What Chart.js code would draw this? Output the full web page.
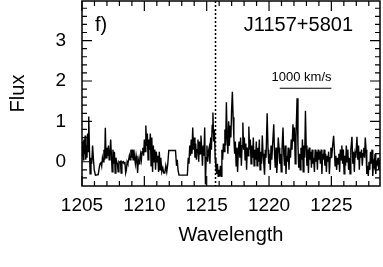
<!DOCTYPE html>
<html>
<head>
<meta charset="utf-8">
<script src="https://cdn.jsdelivr.net/npm/chart.js@4/dist/chart.umd.min.js"></script>
<style>
html,body{margin:0;padding:0;background:#fff;}
canvas{display:block;}
</style>
</head>
<body>
<canvas id="c" width="383" height="267"></canvas>
<script>
const wavelength = [
1205.00,1205.05,1205.10,1205.15,1205.20,1205.25,1205.30,1205.35,1205.40,1205.45,1205.50,1205.54,1205.60,1205.65,1205.72,1205.78,1205.85,1205.92,1205.98,
1206.08,1206.30,1206.38,1206.45,1206.52,1206.58,1206.64,1206.70,1206.76,1206.82,1206.87,1206.93,1207.00,
1207.06,1207.12,1207.18,1207.24,1207.30,1207.36,1207.42,1207.48,1207.54,1207.60,1207.66,1207.72,1207.78,1207.84,1207.90,1207.96,
1208.02,1208.08,1208.14,1208.20,1208.26,1208.32,1208.38,1208.44,1208.50,1208.56,1208.62,1208.68,1208.74,1208.80,1208.86,1208.92,1208.98,
1209.04,1209.10,1209.16,1209.22,1209.28,1209.34,1209.40,1209.46,1209.52,1209.58,1209.64,1209.70,1209.76,1209.82,1209.88,1209.94,
1210.00,1210.06,1210.12,1210.18,1210.24,1210.30,1210.36,1210.42,1210.48,1210.54,1210.60,1210.66,1210.72,1210.78,1210.84,1210.90,1210.96,
1211.02,1211.08,1211.14,1211.20,1211.26,1211.32,1211.40,1211.48,1211.56,1211.64,1211.72,1211.80,1211.88,1211.96,
1212.50,1212.58,1212.64,1212.70,1212.78,1213.45,1213.52,1213.58,1213.64,1213.70,1213.76,1213.82,1213.88,1213.94,
1214.00,1214.06,1214.12,1214.18,1214.24,1214.30,1214.36,1214.42,1214.48,1214.54,1214.60,1214.66,1214.72,1214.78,1214.84,1214.90,1214.96,
1215.02,1215.08,1215.14,1215.20,1215.26,1215.32,1215.38,1215.44,1215.50,1215.56,1215.62,1215.68,1215.74,1215.80,1215.86,1215.92,1215.98,
1216.04,1216.10,1216.16,1216.22,1216.28,1216.34,1216.40,1216.46,1216.52,1216.58,1216.64,1216.70,1216.76,1216.82,1216.88,1216.94,
1217.00,1217.06,1217.12,1217.18,1217.24,1217.30,1217.36,1217.42,1217.48,1217.54,1217.60,1217.66,1217.72,1217.78,1217.84,1217.90,1217.96,
1218.02,1218.08,1218.14,1218.20,1218.26,1218.32,1218.38,1218.44,1218.50,1218.56,1218.62,1218.68,1218.74,1218.80,1218.86,1218.92,1218.98,
1219.04,1219.10,1219.16,1219.22,1219.28,1219.34,1219.40,1219.46,1219.52,1219.58,1219.64,1219.70,1219.76,1219.85,1219.92,1219.98,
1220.04,1220.10,1220.16,1220.22,1220.30,1220.38,1220.44,1220.50,1220.56,1220.62,1220.68,1220.74,1220.80,1220.86,1220.92,1220.98,
1221.04,1221.12,1221.18,1221.24,1221.30,1221.36,1221.42,1221.48,1221.54,1221.60,1221.66,1221.72,1221.78,1221.84,1221.92,1221.98,
1222.04,1222.10,1222.16,1222.25,1222.32,1222.38,1222.44,1222.50,1222.56,1222.62,1222.68,1222.74,1222.80,1222.86,1222.92,1222.98,
1223.04,1223.10,1223.16,1223.22,1223.28,1223.34,1223.40,1223.46,1223.52,1223.58,1223.64,1223.70,1223.76,1223.82,1223.88,1223.94,
1224.00,1224.06,1224.12,1224.18,1224.24,1224.30,1224.36,1224.42,1224.48,1224.54,1224.60,1224.66,1224.72,1224.78,1224.84,1224.90,1224.96,
1225.02,1225.10,1225.18,1225.24,1225.30,1225.36,1225.42,1225.48,1225.54,1225.60,1225.66,1225.72,1225.78,1225.84,1225.90,1225.96,
1226.02,1226.08,1226.14,1226.20,1226.26,1226.32,1226.38,1226.44,1226.50,1226.56,1226.65,1226.72,1226.78,1226.84,1226.90,1226.96,
1227.05,1227.12,1227.18,1227.24,1227.30,1227.36,1227.42,1227.48,1227.54,1227.60,1227.66,1227.72,1227.78,1227.84,1227.90,1227.96,
1228.02,1228.08,1228.14,1228.20,1228.26,1228.32,1228.38,1228.44,1228.50,1228.56,1228.62,1228.68,1228.74,1228.80,1228.86,1228.92
];
const flux = [
0.15,0.50,0.05,0.55,0.20,0.65,0.05,0.40,0.10,0.70,0.25,1.12,0.30,-0.30,0.10,-0.05,0.40,0.05,-0.20,
-0.33,-0.32,-0.15,-0.05,0.00,-0.10,0.10,0.00,0.30,0.05,0.84,0.10,0.35,
0.15,0.40,0.05,0.20,0.55,0.15,-0.25,0.30,-0.05,0.25,-0.28,0.10,0.00,-0.05,-0.25,0.00,
-0.02,0.00,-0.28,0.00,-0.02,0.00,-0.05,0.00,-0.28,-0.20,0.00,-0.05,0.05,0.15,0.05,0.30,0.10,
0.30,0.05,0.30,0.10,-0.05,0.15,0.00,-0.28,0.05,-0.05,0.10,0.20,0.05,0.25,0.35,0.15,
0.55,0.25,0.90,0.40,0.70,0.05,0.55,0.30,0.70,-0.10,0.60,-0.25,0.40,0.00,0.30,-0.20,0.25,
0.00,0.15,-0.25,0.25,-0.20,0.10,-0.25,-0.15,-0.28,-0.28,-0.10,-0.25,-0.05,0.28,
0.28,-0.10,0.05,-0.20,-0.33,-0.33,0.10,-0.05,0.40,0.15,0.55,0.20,0.85,0.30,
0.60,0.10,0.45,0.05,0.30,0.55,0.00,0.50,0.20,0.65,0.35,-0.10,0.40,0.15,0.85,-0.56,0.10,
0.40,0.00,0.25,0.35,-0.05,0.60,0.30,0.90,1.22,0.50,0.80,0.10,-0.15,-0.30,-0.05,-0.36,-0.20,
-0.36,-0.10,-0.36,0.30,0.05,0.45,0.25,0.80,0.40,1.47,0.60,0.20,1.00,0.40,0.90,0.60,
1.30,1.73,1.10,0.60,0.20,0.50,-0.10,0.35,-0.25,0.30,0.50,0.10,0.60,-0.10,0.40,0.97,0.30,
0.60,0.05,0.45,-0.20,0.35,0.15,0.87,0.30,0.55,-0.05,0.40,0.10,0.60,-0.10,0.30,0.05,0.50,
-0.10,0.35,0.00,0.55,-0.20,0.25,-0.05,0.65,0.20,-0.05,-0.32,0.30,0.10,1.20,0.30,-0.05,
0.20,-0.20,0.40,0.05,0.50,0.93,0.20,-0.15,0.35,-0.28,0.05,0.60,0.35,-0.05,0.20,-0.25,
0.30,0.85,0.20,-0.10,0.40,-0.30,0.15,0.00,0.35,-0.20,0.30,0.10,0.55,0.30,0.93,0.50,
0.85,-0.05,0.60,1.57,0.40,-0.15,0.20,-0.20,0.35,0.05,0.55,-0.25,0.40,0.10,1.26,0.40,
-0.10,0.30,-0.28,0.35,0.05,0.25,-0.15,0.30,-0.05,0.10,-0.25,0.30,0.00,0.25,-0.20,0.30,
0.05,0.25,-0.05,0.30,-0.30,0.20,0.05,0.30,-0.10,0.20,-0.25,0.15,0.00,0.25,-0.30,0.10,0.35,
0.10,0.40,0.64,0.30,-0.10,0.15,-0.20,0.10,-0.05,0.20,-0.25,0.30,0.05,0.40,-0.05,0.30,
-0.30,0.15,-0.10,0.40,0.00,0.30,-0.20,0.10,-0.30,0.30,0.62,-0.05,0.25,-0.25,0.20,0.10,
0.62,0.05,0.40,-0.20,0.25,0.10,0.30,-0.10,0.20,0.35,0.10,0.60,0.30,-0.30,-0.10,-0.35,
0.00,-0.20,0.25,-0.05,0.30,-0.35,0.00,-0.10,0.20,-0.30,0.00,-0.05,0.10,-0.20,0.00,-0.05
];
const xTickLabels = [1205, 1210, 1215, 1220, 1225];
const yTickLabels = [0, 1, 2, 3];
const xRange = [1205, 1228.9];
const yRange = [-0.6, 3.98];
const lyaWavelength = 1215.67;
const scaleBarWavelengths = [1220.86, 1225.0];
const scaleBarFlux = 1.82;
const scaleBarText = "1000 km/s";
const panelLabel = "f)";
const objectName = "J1157+5801";

const FONT = "'Liberation Sans', Arial, Helvetica, sans-serif";
Chart.defaults.font.family = FONT;
Chart.defaults.color = '#000';

const decor = {
  id: 'decor',
  afterDatasetsDraw(chart) {
    const ctx = chart.ctx, a = chart.chartArea;
    const xs = chart.scales.x, ys = chart.scales.y;
    ctx.save();
    ctx.strokeStyle = '#000';
    ctx.lineWidth = 1.5;
    ctx.setLineDash([2, 2]);
    const lx = Math.round(xs.getPixelForValue(lyaWavelength)) + 0.5;
    ctx.beginPath(); ctx.moveTo(lx, a.top); ctx.lineTo(lx, a.bottom); ctx.stroke();
    ctx.setLineDash([]);
    ctx.lineWidth = 1.5;
    ctx.strokeRect(a.left, a.top, a.right - a.left, a.bottom - a.top);
    ctx.lineWidth = 1.2;
    ctx.beginPath();
    for (let w = Math.ceil(xRange[0]); w <= xRange[1]; w += 1) {
      const p = xs.getPixelForValue(w);
      const len = (w % 5 === 0) ? 10 : 5;
      ctx.moveTo(p, a.bottom); ctx.lineTo(p, a.bottom - len);
      ctx.moveTo(p, a.top); ctx.lineTo(p, a.top + len);
    }
    for (let k = -2; k <= 19; k++) {
      const v = k / 5;
      if (v < yRange[0] || v > yRange[1]) continue;
      const p = ys.getPixelForValue(v);
      const len = (k % 5 === 0) ? 10 : 5;
      ctx.moveTo(a.left, p); ctx.lineTo(a.left + len, p);
      ctx.moveTo(a.right, p); ctx.lineTo(a.right - len, p);
    }
    ctx.stroke();
    ctx.lineWidth = 1.2;
    const sy = ys.getPixelForValue(scaleBarFlux);
    const sx0 = xs.getPixelForValue(scaleBarWavelengths[0]);
    const sx1 = xs.getPixelForValue(scaleBarWavelengths[1]);
    ctx.beginPath(); ctx.moveTo(sx0, sy); ctx.lineTo(sx1, sy); ctx.stroke();
    ctx.fillStyle = '#000';
    ctx.font = "13px " + FONT;
    ctx.textAlign = 'center'; ctx.textBaseline = 'middle';
    ctx.fillText(scaleBarText, (sx0 + sx1) / 2 - 4, sy - 11);
    ctx.font = "20px " + FONT;
    ctx.textAlign = 'left';
    ctx.fillText(panelLabel, a.left + 13, a.top + 24);
    ctx.textAlign = 'right';
    ctx.fillText(objectName, a.right - 27, a.top + 24);
    ctx.restore();
  }
};

function zeroPad(s) { s.paddingTop = 0; s.paddingBottom = 0; s.paddingLeft = 0; s.paddingRight = 0; }

new Chart(document.getElementById('c'), {
  type: 'line',
  data: {
    datasets: [{
      data: wavelength.map((w, i) => ({ x: w, y: flux[i] })),
      borderColor: '#000',
      borderWidth: 1.4,
      pointRadius: 0,
      tension: 0,
      fill: false
    }]
  },
  options: {
    responsive: false,
    animation: false,
    devicePixelRatio: 1,
    layout: { padding: { top: 1, right: 3, left: 0, bottom: 0 } },
    plugins: { legend: { display: false }, tooltip: { enabled: false } },
    scales: {
      x: {
        type: 'linear',
        min: xRange[0], max: xRange[1],
        grid: { display: false, drawTicks: false },
        border: { display: false },
        afterBuildTicks: s => { s.ticks = xTickLabels.map(v => ({ value: v })); },
        ticks: { padding: 8, font: { size: 19 }, color: '#000', maxRotation: 0, autoSkip: false, callback: v => String(v) },
        title: { display: true, text: 'Wavelength', font: { size: 20 }, color: '#000', padding: { top: 0, bottom: 20 } },
        afterFit: s => { s.height = 81; zeroPad(s); }
      },
      y: {
        type: 'linear',
        min: yRange[0], max: yRange[1],
        grid: { display: false, drawTicks: false },
        border: { display: false },
        afterBuildTicks: s => { s.ticks = yTickLabels.map(v => ({ value: v })); },
        ticks: { padding: 16, font: { size: 19 }, color: '#000', autoSkip: false, callback: v => String(v) },
        title: { display: true, text: 'Flux', font: { size: 20 }, color: '#000', padding: { top: 6, bottom: 0 } },
        afterFit: s => { s.width = 82; zeroPad(s); }
      }
    }
  },
  plugins: [decor]
});
</script>
</body>
</html>
